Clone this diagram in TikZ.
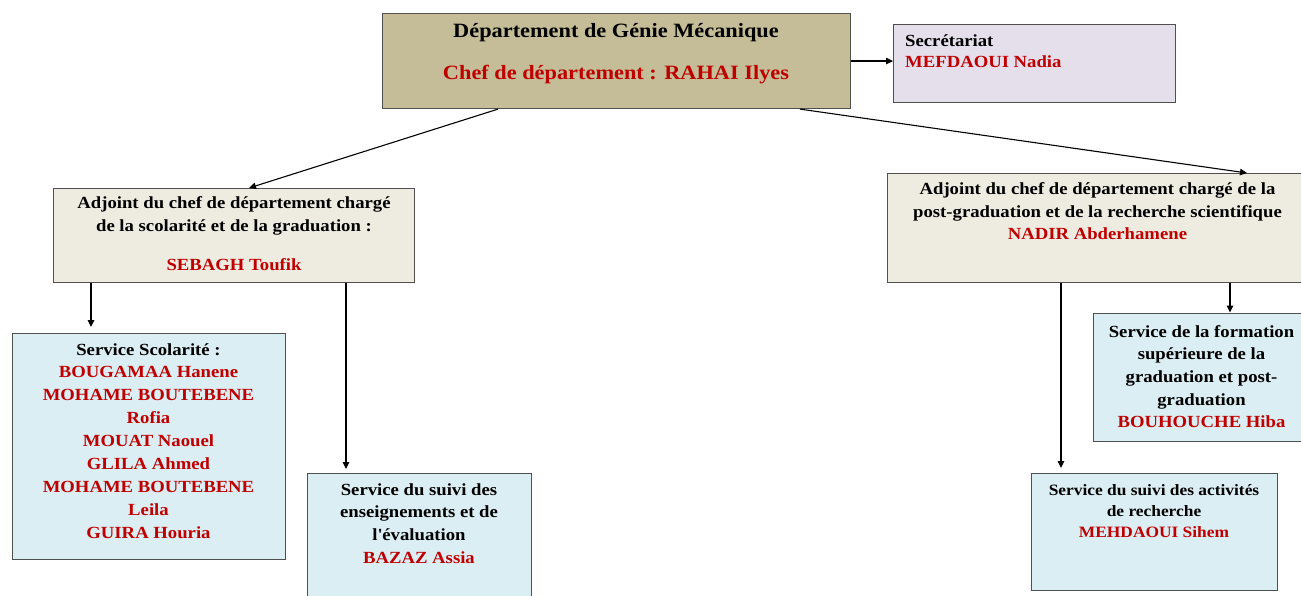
\documentclass[tikz,border=0pt]{standalone}
\usepackage{fontspec}
\setmainfont{Liberation Serif}[FakeStretch=1.1]
\usetikzlibrary{arrows.meta}
\definecolor{khaki}{HTML}{C4BD97}
\definecolor{lavender}{HTML}{E5DFEC}
\definecolor{beige}{HTML}{EEECE1}
\definecolor{aqua}{HTML}{DBEEF3}
\definecolor{redtxt}{HTML}{C00000}
\definecolor{edge}{HTML}{505050}
\tikzset{
  box/.style={draw=edge, line width=1.1pt, inner sep=0pt, anchor=north west},
  lbl/.style={inner sep=0pt, anchor=base, align=center, font=\bfseries\fontsize{17}{22.7}\selectfont},
  conn/.style={draw=black, line width=1.1pt, -{Triangle[length=7pt,width=6.5pt]}}
}
\newcommand{\nm}[1]{\textcolor{redtxt}{#1}}
\begin{document}
\begin{tikzpicture}[x=1pt,y=-1pt]
\fill[white] (0,0) rectangle (1301,596);
\path[use as bounding box] (0,0) rectangle (1301,596);
\clip (0,0) rectangle (1301,596);
% boxes
\node[box, fill=khaki, minimum width=468pt, minimum height=95pt] (top) at (382,13) {};
\node[box, fill=lavender, minimum width=282pt, minimum height=78pt] (sec) at (893,24) {};
\node[box, fill=beige, minimum width=361pt, minimum height=94pt] (adjL) at (53,188) {};
\node[box, fill=beige, minimum width=425pt, minimum height=109pt] (adjR) at (887,173) {};
\node[box, fill=aqua, minimum width=273pt, minimum height=226pt] (scol) at (12,333) {};
\node[box, fill=aqua, minimum width=224pt, minimum height=140pt] (ens) at (307,473) {};
\node[box, fill=aqua, minimum width=220pt, minimum height=128pt] (form) at (1093,313) {};
\node[box, fill=aqua, minimum width=246pt, minimum height=117pt] (rech) at (1031,473) {};
% texts (anchor=base is the baseline of the last line)
\node[lbl, font=\bfseries\fontsize{20.3}{24}\selectfont] (topT) at (616,38) {Département de Génie Mécanique};
\node[lbl, font=\bfseries\fontsize{20.3}{24}\selectfont] (topN) at (616,80) {\nm{Chef de département : RAHAI Ilyes}};
\node[lbl, anchor=base west, align=left, font=\bfseries\fontsize{17}{21}\selectfont] (secT) at (905,68) {Secrétariat\\\nm{MEFDAOUI Nadia}};
\node[lbl] (adjLT) at (234,270.4) {Adjoint du chef de département chargé\\de la scolarité et de la graduation :\\[16pt]\nm{SEBAGH Toufik}};
\node[lbl, font=\bfseries\fontsize{17}{22.5}\selectfont] (adjRT) at (1097.5,240) {Adjoint du chef de département chargé de la\\post-graduation et de la recherche scientifique\\\nm{NADIR Abderhamene}};
\node[lbl, font=\bfseries\fontsize{17}{22.9}\selectfont] (scolT) at (148.5,538.2) {Service Scolarité :\\\nm{BOUGAMAA Hanene}\\\nm{MOHAME BOUTEBENE}\\\nm{Rofia}\\\nm{MOUAT Naouel}\\\nm{GLILA Ahmed}\\\nm{MOHAME BOUTEBENE}\\\nm{Leila}\\\nm{GUIRA Houria}};
\node[lbl] (ensT) at (419,563.1) {Service du suivi des\\enseignements et de\\l\textquotesingle évaluation\\\nm{BAZAZ Assia}};
\node[lbl] (formT) at (1201.5,427.8) {Service de la formation\\supérieure de la\\graduation et post-\\graduation\\\nm{BOUHOUCHE Hiba}};
\node[lbl, font=\bfseries\fontsize{15.8}{21}\selectfont] (rechT) at (1154,537) {Service du suivi des activités\\de recherche\\\nm{MEHDAOUI Sihem}};
% connectors
\draw[conn] (top.east) -- (top.east -| sec.west);
\draw[conn] ([xshift=116pt]top.south west) -- ([xshift=196pt]adjL.north west);
\draw[conn] ([xshift=418pt]top.south west) -- ([xshift=360pt]adjR.north west);
\coordinate (aL1) at ([xshift=38pt]adjL.south west);
\coordinate (aL2) at ([xshift=293pt]adjL.south west);
\coordinate (aR1) at ([xshift=174pt]adjR.south west);
\coordinate (aR2) at ([xshift=343pt]adjR.south west);
\draw[conn, shorten >=6pt] (aL1) -- (aL1 |- scol.north);
\draw[conn, shorten >=4pt] (aL2) -- (aL2 |- ens.north);
\draw[conn, shorten >=5pt] (aR1) -- (aR1 |- rech.north);
\draw[conn, shorten >=0.5pt] (aR2) -- (aR2 |- form.north);
\end{tikzpicture}
\end{document}
